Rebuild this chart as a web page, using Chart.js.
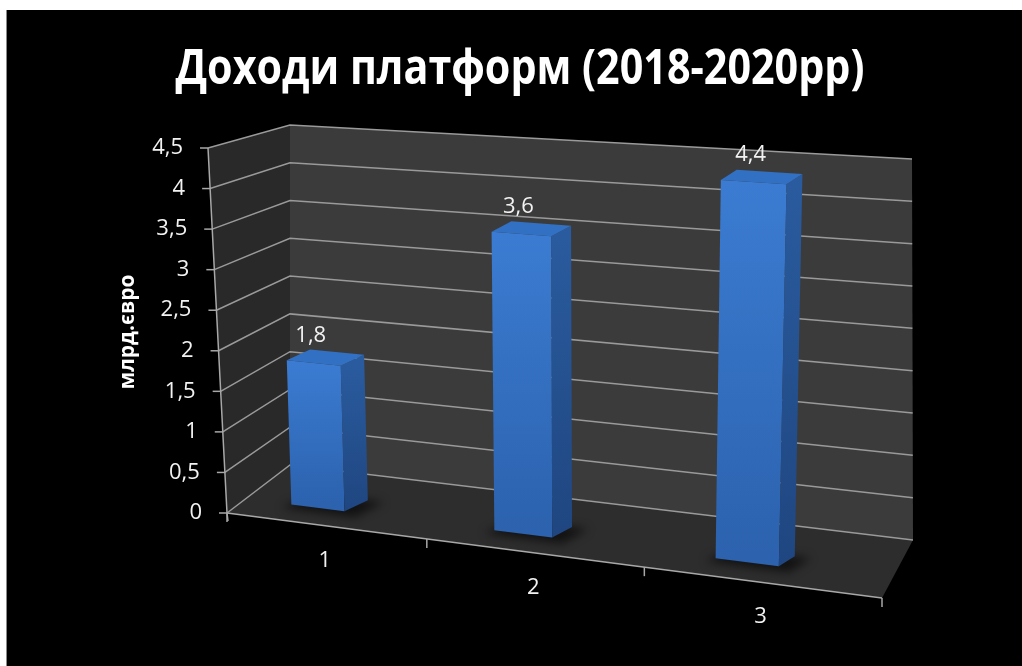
<!DOCTYPE html>
<html>
<head>
<meta charset="utf-8">
<script src="https://cdn.jsdelivr.net/npm/chart.js@4.4.1/dist/chart.umd.min.js"></script>
<style>
  html, body { margin: 0; background: #fff; }
  #wrap { position: absolute; left: 6px; top: 10px; width: 1016px; height: 656px; background: #000; border-left: 1px solid #8a8a8a; }
  canvas { display: block; }
</style>
</head>
<body>
<div id="wrap"><canvas id="chart" width="1015" height="656"></canvas></div>
<script>
const chartTitle = 'Доходи платформ (2018-2020рр)';
const axisTitle = 'млрд.євро';
const categories = ['1', '2', '3'];
const revenue = [1.8, 3.6, 4.4];
const revenueLabels = ['1,8', '3,6', '4,4'];
const yTickValues = [0, 0.5, 1, 1.5, 2, 2.5, 3, 3.5, 4, 4.5];
const yTickLabels = ['0', '0,5', '1', '1,5', '2', '2,5', '3', '3,5', '4', '4,5'];

// corners of the fake 3d box, canvas pixels (f/b = front/back, l/r = left/right, b/t = bottom/top)
const box = {
  flb: [220, 503], flt: [201, 138], frb: [875, 588], frt: [893, 183],
  blb: [283, 455], blt: [283, 115], brb: [906, 530], brt: [905, 149]
};

function lerp(a, b, t) { return [a[0] + (b[0] - a[0]) * t, a[1] + (b[1] - a[1]) * t]; }

// X along categories, Y share of the value axis, Z depth (0 front, 1 back)
function project(X, Y, Z) {
  const front = lerp(lerp(box.flb, box.frb, X), lerp(box.flt, box.frt, X), Y);
  const back = lerp(lerp(box.blb, box.brb, X), lerp(box.blt, box.brt, X), Y);
  return lerp(front, back, Z);
}

// the far (left) end of the category axis looks a bit shorter
function persp(u) { const k = 0.878; return k * u / (1 + (k - 1) * u); }

function poly(ctx, pts, fill) {
  ctx.beginPath();
  pts.forEach((p, i) => i ? ctx.lineTo(p[0], p[1]) : ctx.moveTo(p[0], p[1]));
  ctx.closePath();
  ctx.fillStyle = fill;
  ctx.fill();
}

function line(ctx, pts) {
  ctx.beginPath();
  pts.forEach((p, i) => i ? ctx.lineTo(p[0], p[1]) : ctx.moveTo(p[0], p[1]));
  ctx.stroke();
}

const numFont = '22px "Open Sans"';

const fake3d = {
  id: 'fake3d',
  beforeDatasetsDraw(chart) {
    const ctx = chart.ctx;
    const xs = chart.scales.x, ys = chart.scales.y;
    const share = px => (ys.bottom - px) / (ys.bottom - ys.top);
    const ux = px => (px - xs.left) / (xs.right - xs.left);

    ctx.save();
    // title, a little narrower than the font draws it
    ctx.save();
    ctx.translate(513, 74);
    ctx.scale(0.86, 1);
    ctx.font = 'bold 48px "Open Sans"';
    ctx.fillStyle = '#ffffff';
    ctx.textAlign = 'center';
    ctx.textBaseline = 'alphabetic';
    ctx.fillText(chartTitle, 0, 0);
    ctx.restore();

    // walls
    poly(ctx, [project(0, 0, 0), project(0, 0, 1), project(0, 1, 1), project(0, 1, 0)], '#292929');
    poly(ctx, [project(0, 0, 1), project(1, 0, 1), project(1, 1, 1), project(0, 1, 1)], '#3b3b3b');
    poly(ctx, [project(0, 0, 0), project(1, 0, 0), project(1, 0, 1), project(0, 0, 1)], '#2d2d2d');

    // grid lines on side and back wall
    ctx.strokeStyle = '#9a9a9a';
    ctx.lineWidth = 1.5;
    yTickValues.forEach(v => {
      const t = share(ys.getPixelForValue(v));
      line(ctx, [project(0, t, 0), project(0, t, 1), project(1, t, 1)]);
    });

    // front axes and tick marks
    ctx.strokeStyle = '#a8a8a8';
    const o = project(0, 0, 0);
    line(ctx, [[o[0] + 1, o[1] + 8], o, project(0, 1, 0)]);
    line(ctx, [o, project(1, 0, 0)]);
    yTickValues.forEach(v => {
      const p = project(0, share(ys.getPixelForValue(v)), 0);
      line(ctx, [p, [p[0] - 8, p[1]]]);
    });
    for (let i = 0; i <= categories.length; i++) {
      const p = project(persp(i / categories.length), 0, 0);
      line(ctx, [p, [p[0], p[1] + 9]]);
    }

    // tick labels
    ctx.fillStyle = '#f2f2f2';
    ctx.font = numFont;
    ctx.textAlign = 'right';
    ctx.textBaseline = 'middle';
    yTickValues.forEach((v, i) => {
      const p = project(0, share(ys.getPixelForValue(v)), 0);
      ctx.fillText(yTickLabels[i], p[0] - 25, p[1]);
    });
    ctx.textAlign = 'center';
    categories.forEach((c, i) => {
      const p = project(persp(ux(xs.getPixelForValue(i))), 0, 0);
      ctx.fillText(c, p[0], p[1] + 35);
    });

    // axis title
    ctx.save();
    ctx.translate(121, 322);
    ctx.rotate(-Math.PI / 2);
    ctx.font = 'bold 21px "Open Sans"';
    ctx.fillStyle = '#ffffff';
    ctx.fillText(axisTitle, 0, 0);
    ctx.restore();

    // bars
    const zb = 0.3, shift = -0.038;
    const meta = chart.getDatasetMeta(0);
    meta.data.forEach((bar, i) => {
      const c = ux(bar.x), hw = bar.width / 2 / (xs.right - xs.left);
      const xl = persp(c - hw) + shift, xr = persp(c + hw) + shift;
      const t = share(bar.y), b = share(bar.base);
      const A = project(xl, b, zb), B = project(xr, b, zb);
      const C = project(xr, t, zb), D = project(xl, t, zb);
      const d = lerp([25, -11], [14, -10], xr);
      const add = (p, q) => [p[0] + q[0], p[1] + q[1]];

      // shadow on the floor
      ctx.save();
      ctx.filter = 'blur(5px)';
      poly(ctx, [add(A, [-10, 3]), add(B, [10, 6]), add(B, [d[0] + 16, d[1] + 2]), add(A, [d[0], d[1]])], 'rgba(0,0,0,0.6)');
      ctx.restore();

      let g = ctx.createLinearGradient(0, D[1], 0, A[1]);
      g.addColorStop(0, '#3b7cd2');
      g.addColorStop(1, '#2c62ae');
      poly(ctx, [A, B, C, D], g);
      g = ctx.createLinearGradient(0, C[1], 0, B[1]);
      g.addColorStop(0, '#2a5b9e');
      g.addColorStop(1, '#1f4680');
      poly(ctx, [B, C, add(C, d), add(B, d)], g);
      poly(ctx, [D, C, add(C, d), add(D, d)], '#3170c2');

      ctx.fillStyle = '#f2f2f2';
      ctx.font = numFont;
      ctx.textAlign = 'center';
      ctx.textBaseline = 'alphabetic';
      ctx.fillText(revenueLabels[i], (D[0] + C[0]) / 2 - 3, (D[1] + C[1]) / 2 - 21);
    });
    ctx.restore();
    return false;
  }
};

new Chart(document.getElementById('chart'), {
  type: 'bar',
  data: {
    labels: categories,
    datasets: [{
      label: axisTitle,
      data: revenue,
      backgroundColor: '#3b7cd2',
      categoryPercentage: 1,
      barPercentage: 0.27
    }]
  },
  options: {
    responsive: false,
    animation: false,
    devicePixelRatio: 1,
    layout: { padding: { top: 100 } },
    plugins: {
      legend: { display: false },
      tooltip: { enabled: false },
      title: { display: false }
    },
    scales: {
      x: { display: false },
      y: { display: false, min: 0, max: 4.5, ticks: { stepSize: 0.5 } }
    }
  },
  plugins: [fake3d]
});
</script>
</body>
</html>
